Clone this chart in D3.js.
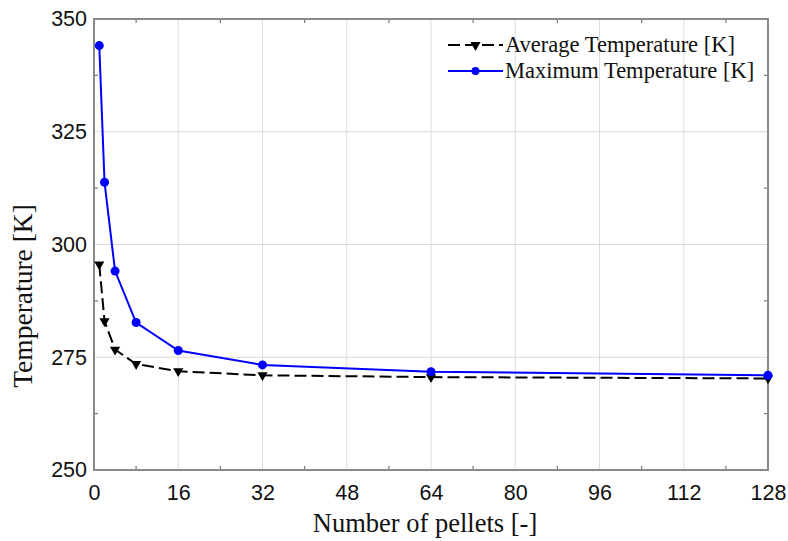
<!DOCTYPE html>
<html><head><meta charset="utf-8">
<script src="https://cdn.jsdelivr.net/npm/d3@7"></script>
<style>body{margin:0;background:#fff}svg{display:block}</style>
</head><body>
<script>
const pellets = [1, 2, 4, 8, 16, 32, 64, 128];
const avgTemp = [295.6, 283.0, 276.7, 273.5, 271.9, 271.0, 270.6, 270.3];
const maxTemp = [344.1, 313.8, 294.1, 282.7, 276.5, 273.3, 271.8, 271.0];
const xTicks = [0, 16, 32, 48, 64, 80, 96, 112, 128];
const xMinor = [8, 24, 40, 56, 72, 88, 104, 120];
const yTicks = [250, 275, 300, 325, 350];
const yMinor = [262.5, 287.5, 312.5, 337.5];
const seriesNames = ["Average Temperature [K]", "Maximum Temperature [K]"];

const W = 788, H = 541;
const m = {l: 94, r: 768, t: 19, b: 470};
const svg = d3.select("body").append("svg").attr("width", W).attr("height", H);
const x = d3.scaleLinear().domain([0, 128]).range([m.l, m.r]);
const y = d3.scaleLinear().domain([250, 350]).range([m.b, m.t]);

// grid
const grid = svg.append("g").attr("stroke", "#dcdcdc").attr("stroke-width", 1);
xTicks.slice(1, -1).forEach(v => grid.append("line").attr("x1", x(v)).attr("x2", x(v)).attr("y1", m.t).attr("y2", m.b));
yTicks.slice(1, -1).forEach(v => grid.append("line").attr("x1", m.l).attr("x2", m.r).attr("y1", y(v)).attr("y2", y(v)));

// minor inward ticks on all sides
const tk = svg.append("g").attr("stroke", "#777").attr("stroke-width", 1.2);
xMinor.forEach(v => {
  tk.append("line").attr("x1", x(v)).attr("x2", x(v)).attr("y1", m.b).attr("y2", m.b - 4);
  tk.append("line").attr("x1", x(v)).attr("x2", x(v)).attr("y1", m.t).attr("y2", m.t + 4);
});
yMinor.forEach(v => {
  tk.append("line").attr("x1", m.l).attr("x2", m.l + 4).attr("y1", y(v)).attr("y2", y(v));
  tk.append("line").attr("x1", m.r).attr("x2", m.r - 4).attr("y1", y(v)).attr("y2", y(v));
});

// frame
svg.append("rect").attr("x", m.l).attr("y", m.t).attr("width", m.r - m.l).attr("height", m.b - m.t)
  .attr("fill", "none").attr("stroke", "#8a8a8a").attr("stroke-width", 2);

// axes labels via d3 axes
const xAxis = svg.append("g").attr("transform", `translate(0,${m.b})`)
  .call(d3.axisBottom(x).tickValues(xTicks).tickSize(0).tickPadding(15).tickFormat(d3.format("d")));
const yAxis = svg.append("g").attr("transform", `translate(${m.l},0)`)
  .call(d3.axisLeft(y).tickValues(yTicks).tickSize(0).tickPadding(7).tickFormat(d3.format("d")));
[xAxis, yAxis].forEach(a => {
  a.select(".domain").remove();
  a.selectAll("text").attr("font-family", "Liberation Sans, Arial, sans-serif").attr("font-size", 21.5).attr("fill", "#111");
});

// titles
svg.append("text").attr("x", 425).attr("y", 532).attr("text-anchor", "middle")
  .attr("font-family", "Liberation Serif, Times New Roman, serif").attr("font-size", 26.5).attr("fill", "#111")
  .text("Number of pellets [-]");
svg.append("text").attr("transform", "translate(32,296) rotate(-90)").attr("text-anchor", "middle")
  .attr("font-family", "Liberation Serif, Times New Roman, serif").attr("font-size", 27.5).attr("fill", "#111")
  .text("Temperature [K]");

const line = d3.line().x(d => x(d[0])).y(d => y(d[1]));
const avgData = pellets.map((p, i) => [p, avgTemp[i]]);
const maxData = pellets.map((p, i) => [p, maxTemp[i]]);
const tri = d3.symbol().type(d3.symbolTriangle).size(45);

svg.append("path").datum(avgData).attr("d", line).attr("fill", "none").attr("stroke", "#000")
  .attr("stroke-width", 2).attr("stroke-dasharray", "12,5");
svg.append("g").selectAll("path").data(avgData).join("path")
  .attr("d", tri).attr("transform", d => `translate(${x(d[0])},${y(d[1])}) rotate(180)`).attr("fill", "#000");

svg.append("path").datum(maxData).attr("d", line).attr("fill", "none").attr("stroke", "#0000ff").attr("stroke-width", 2);
svg.append("g").selectAll("circle").data(maxData).join("circle")
  .attr("cx", d => x(d[0])).attr("cy", d => y(d[1])).attr("r", 4.5).attr("fill", "#0000ff");

// legend
const lg = svg.append("g");
const rows = [45, 71];
lg.append("line").attr("x1", 448).attr("x2", 503).attr("y1", rows[0]).attr("y2", rows[0])
  .attr("stroke", "#000").attr("stroke-width", 2).attr("stroke-dasharray", "12,5");
lg.append("path").attr("d", tri).attr("transform", `translate(475.5,${rows[0]}) rotate(180)`).attr("fill", "#000");
lg.append("line").attr("x1", 448).attr("x2", 503).attr("y1", rows[1]).attr("y2", rows[1])
  .attr("stroke", "#0000ff").attr("stroke-width", 2);
lg.append("circle").attr("cx", 475.5).attr("cy", rows[1]).attr("r", 4).attr("fill", "#0000ff");
seriesNames.forEach((n, i) => lg.append("text").attr("x", 505).attr("y", rows[i] + 7)
  .attr("font-family", "Liberation Serif, Times New Roman, serif").attr("font-size", 22.5).attr("fill", "#111").text(n));
</script>
</body></html>
